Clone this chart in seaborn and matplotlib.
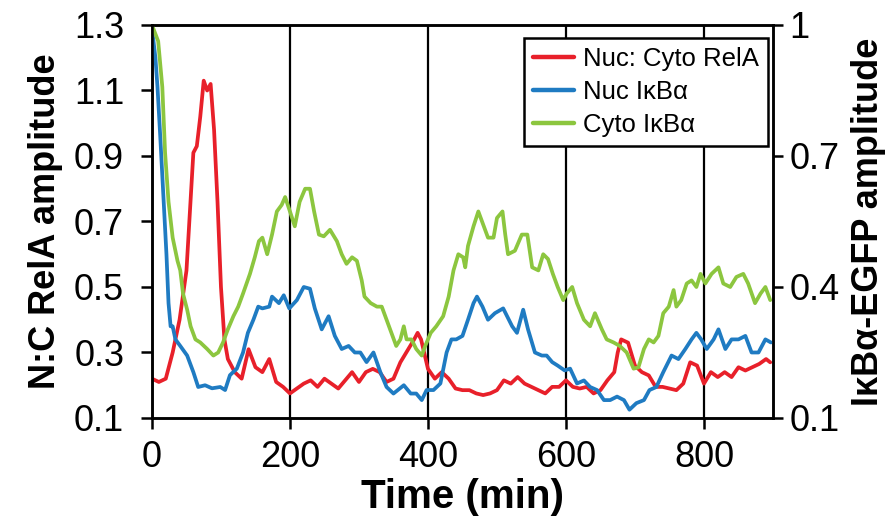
import matplotlib
matplotlib.use("Agg")
import matplotlib.pyplot as plt
import seaborn as sns

# Nuc:Cyto RelA (left axis)
t_rela = [0, 10, 20, 30, 40, 50, 60, 65, 70, 75,
          80, 85, 90, 95, 100, 105, 110, 120, 130, 140,
          150, 160, 170, 180, 190, 200, 210, 220, 230, 240,
          250, 260, 270, 280, 290, 300, 310, 320, 330, 340,
          350, 360, 370, 380, 385, 390, 400, 410, 420, 430,
          440, 450, 460, 470, 480, 490, 500, 510, 520, 530,
          540, 550, 560, 570, 580, 590, 600, 610, 620, 630,
          640, 650, 660, 670, 675, 680, 690, 700, 710, 720,
          730, 740, 750, 760, 770, 780, 790, 800, 810, 820,
          830, 840, 850, 860, 870, 880, 890, 896]
rela = [0.22, 0.21, 0.22, 0.30, 0.40, 0.55, 0.91, 0.93, 1.02, 1.13,
        1.10, 1.12, 0.98, 0.76, 0.50, 0.34, 0.28, 0.24, 0.22, 0.31,
        0.255, 0.24, 0.28, 0.21, 0.195, 0.175, 0.19, 0.205, 0.215, 0.195,
        0.22, 0.205, 0.19, 0.215, 0.24, 0.21, 0.24, 0.25, 0.24, 0.21,
        0.22, 0.27, 0.305, 0.34, 0.36, 0.34, 0.25, 0.22, 0.24, 0.22,
        0.19, 0.185, 0.185, 0.175, 0.17, 0.175, 0.185, 0.215, 0.205, 0.225,
        0.205, 0.195, 0.185, 0.175, 0.195, 0.195, 0.215, 0.195, 0.19, 0.195,
        0.175, 0.185, 0.215, 0.24, 0.30, 0.34, 0.33, 0.26, 0.24, 0.23,
        0.195, 0.195, 0.19, 0.185, 0.205, 0.27, 0.26, 0.205, 0.24, 0.225,
        0.24, 0.225, 0.255, 0.245, 0.255, 0.265, 0.28, 0.27]

# Nuc IkBa (right axis)
t_nuc = [0, 5, 8, 12, 17, 21, 24, 27, 30, 34,
         41, 51, 60, 67, 77, 87, 99, 106, 113, 123,
         132, 139, 147, 154, 160, 170, 174, 184, 191, 199,
         210, 220, 229, 236, 246, 256, 265, 275, 285, 294,
         302, 311, 321, 331, 340, 350, 365, 375, 383, 391,
         398, 408, 418, 427, 434, 441, 450, 458, 466, 471,
         479, 487, 497, 509, 522, 529, 538, 545, 555, 565,
         572, 580, 588, 598, 606, 616, 626, 635, 645, 655,
         664, 674, 684, 692, 702, 713, 721, 731, 741, 753,
         763, 773, 782, 789, 796, 804, 814, 821, 831, 840,
         850, 860, 869, 879, 889, 897]
nuc_ikba = [0.993, 0.925, 0.858, 0.745, 0.595, 0.475, 0.363, 0.31, 0.31, 0.28,
            0.265, 0.243, 0.205, 0.171, 0.175, 0.168, 0.171, 0.164, 0.198, 0.213,
            0.25, 0.295, 0.325, 0.355, 0.351, 0.355, 0.378, 0.363, 0.381, 0.351,
            0.37, 0.40, 0.396, 0.351, 0.303, 0.333, 0.288, 0.258, 0.265, 0.25,
            0.25, 0.228, 0.25, 0.205, 0.171, 0.156, 0.175, 0.156, 0.156, 0.141,
            0.164, 0.164, 0.179, 0.25, 0.28, 0.28, 0.288, 0.325, 0.363, 0.378,
            0.355, 0.325, 0.34, 0.351, 0.31, 0.295, 0.348, 0.303, 0.25, 0.243,
            0.243, 0.228, 0.22, 0.209, 0.213, 0.179, 0.186, 0.171, 0.164, 0.141,
            0.141, 0.149, 0.141, 0.119, 0.134, 0.141, 0.164, 0.171, 0.205, 0.243,
            0.235, 0.258, 0.28, 0.295, 0.28, 0.258, 0.28, 0.303, 0.258, 0.28,
            0.28, 0.288, 0.25, 0.25, 0.28, 0.273]

# Cyto IkBa (right axis)
t_cyto = [0, 9, 15, 19, 24, 30, 37, 41, 45, 51,
          56, 63, 70, 80, 89, 96, 103, 110, 118, 125,
          132, 142, 149, 155, 160, 167, 174, 181, 188, 193,
          200, 207, 214, 222, 229, 235, 242, 249, 258, 268,
          275, 282, 290, 297, 304, 308, 317, 326, 333, 340,
          347, 354, 360, 365, 369, 376, 383, 391, 396, 404,
          412, 422, 430, 437, 444, 451, 454, 458, 466, 473,
          480, 487, 495, 500, 508, 512, 516, 526, 536, 544,
          551, 560, 567, 574, 581, 588, 596, 601, 609, 616,
          626, 635, 642, 652, 659, 669, 678, 688, 698, 705,
          713, 720, 727, 734, 741, 749, 756, 760, 767, 775,
          782, 789, 795, 802, 811, 821, 828, 838, 847, 857,
          864, 874, 882, 889, 896]
cyto_ikba = [1.00, 0.963, 0.858, 0.708, 0.595, 0.513, 0.46, 0.438, 0.385, 0.348,
             0.31, 0.28, 0.273, 0.258, 0.243, 0.25, 0.273, 0.303, 0.333, 0.355,
             0.385, 0.43, 0.468, 0.505, 0.513, 0.475, 0.52, 0.573, 0.588, 0.606,
             0.573, 0.539, 0.595, 0.625, 0.625, 0.573, 0.52, 0.516, 0.531, 0.505,
             0.475, 0.453, 0.468, 0.46, 0.415, 0.378, 0.363, 0.355, 0.355, 0.325,
             0.295, 0.265, 0.28, 0.31, 0.28, 0.28, 0.258, 0.243, 0.265, 0.295,
             0.31, 0.333, 0.378, 0.438, 0.475, 0.468, 0.445, 0.494, 0.539, 0.573,
             0.543, 0.513, 0.513, 0.558, 0.573, 0.52, 0.475, 0.483, 0.52, 0.52,
             0.445, 0.438, 0.475, 0.464, 0.43, 0.40, 0.37, 0.385, 0.40, 0.363,
             0.325, 0.31, 0.34, 0.303, 0.28, 0.273, 0.265, 0.25, 0.213, 0.216,
             0.258, 0.28, 0.273, 0.288, 0.34, 0.355, 0.393, 0.355, 0.37, 0.408,
             0.415, 0.40, 0.43, 0.408, 0.43, 0.445, 0.408, 0.40, 0.423, 0.43,
             0.408, 0.363, 0.385, 0.40, 0.37]

x_ticks = [0, 200, 400, 600, 800]
left_ticks = [0.1, 0.3, 0.5, 0.7, 0.9, 1.1, 1.3]
right_ticks = [0.1, 0.4, 0.7, 1.0]
right_labels = ["0.1", "0.4", "0.7", "1"]

sns.set_theme(style="ticks")
plt.rcParams['font.family'] = ['Liberation Sans', 'DejaVu Sans']
plt.rcParams['axes.labelcolor'] = 'black'
plt.rcParams['text.color'] = 'black'

fig = plt.figure(figsize=(8.96, 5.24), dpi=100)
ax = fig.add_axes([0.1696, 0.2023, 0.6931, 0.75])
ax2 = ax.twinx()

red, blue, green = "#E8202A", "#1F7BC2", "#8CC63F"
lw = 2.7

sns.lineplot(x=t_rela, y=rela, ax=ax, color=red, lw=lw, label="Nuc: Cyto RelA", legend=False)
sns.lineplot(x=t_nuc, y=nuc_ikba, ax=ax2, color=blue, lw=lw, label="Nuc I\u03baB\u03b1", legend=False)
sns.lineplot(x=t_cyto, y=cyto_ikba, ax=ax2, color=green, lw=lw, label="Cyto I\u03baB\u03b1", legend=False)

ax.set_xlim(0, 900)
ax.set_ylim(0.1, 1.3)
ax2.set_ylim(0.1, 1.0)
ax.set_xticks(x_ticks)
ax.set_yticks(left_ticks)
ax.set_yticklabels([f"{v:.1f}" for v in left_ticks])
ax2.set_yticks(right_ticks)
ax2.set_yticklabels(right_labels)

ax.grid(axis="x", color="black", lw=1.6)
ax.grid(axis="y", visible=False)
ax2.grid(False)

for a in (ax, ax2):
    for s in a.spines.values():
        s.set_color("black")
        s.set_linewidth(1.8)
ax.tick_params(axis="both", direction="out", length=8, width=1.8, colors="black", labelsize=26)
ax.tick_params(axis="y", pad=12)
ax.tick_params(axis="x", pad=8)
ax2.tick_params(axis="y", direction="out", length=7, width=1.8, colors="black", labelsize=26, pad=5)

ax.set_xlabel("Time (min)", fontsize=29, fontweight="bold", labelpad=2, color="black")
ax.set_ylabel("N:C RelA amplitude", fontsize=26, fontweight="bold", labelpad=8, color="black")
ax2.set_ylabel("I\u03baB\u03b1-EGFP amplitude", fontsize=26, fontweight="bold", labelpad=8, color="black")

handles = ax.get_lines()[:1] + ax2.get_lines()[:2]
leg = ax2.legend(handles=handles, labels=[h.get_label() for h in handles],
                 loc="upper right", bbox_to_anchor=(0.992, 0.967), borderaxespad=0,
                 fontsize=18.5, frameon=True, fancybox=False, framealpha=1,
                 handlelength=1.6, handletextpad=0.35, labelspacing=0.35, borderpad=0.35)
leg.get_frame().set_edgecolor("black")
leg.get_frame().set_linewidth(1.8)
for line in leg.get_lines():
    line.set_linewidth(3.2)

fig.savefig("out.png", dpi=100)
